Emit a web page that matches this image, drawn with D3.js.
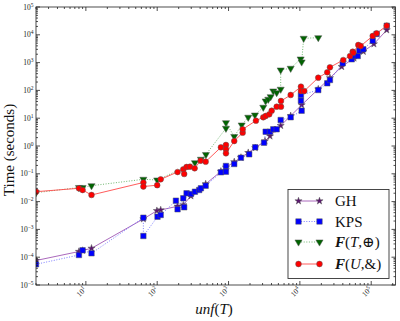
<!DOCTYPE html>
<html><head><meta charset="utf-8">
<script src="https://cdn.jsdelivr.net/npm/d3@7"></script>
<style>body{margin:0;background:#fff} svg{display:block}</style>
</head><body><svg id="c" width="400" height="321"></svg>
<script>
// ---- data ----
const ghX = [2, 8, 9, 12, 64, 99, 112, 193, 232, 297, 478, 782, 920, 1202, 1493, 1888, 2366, 3243, 3811, 5383, 7430, 10590, 18100, 26400, 38550, 57400, 77500, 109000, 165000];
const ghY = [7.6e-5, 1.6e-4, 1.74e-4, 2.09e-4, 2.37e-3, 4.7e-3, 5.0e-3, 6.8e-3, 7.6e-3, 0.0159, 0.043, 0.122, 0.171, 0.268, 0.386, 0.574, 0.86, 1.51, 2.27, 5.4, 12.2, 29.9, 111, 282, 713, 1450, 2500, 4670, 14900];

const kpsX = [2, 8, 9, 12, 64, 64, 101, 112, 183, 193, 232, 239, 258, 297, 338, 388, 410, 478, 782, 920, 920, 1202, 1493, 1950, 2366, 3141, 3315, 3811, 4236, 4731, 5383, 7430, 10590, 10350, 10350, 18100, 24200, 26400, 39800, 53300, 57400, 64700, 68100, 77500, 105000, 119000, 165000];
const kpsY = [5.56e-5, 1.20e-4, 1.77e-4, 1.38e-4, 2.64e-3, 5.79e-4, 2.86e-3, 3.30e-3, 0.0108, 5.28e-3, 0.0132, 6.24e-3, 0.0199, 0.0188, 0.0227, 0.0261, 0.0301, 0.0373, 0.113, 0.191, 0.119, 0.225, 0.379, 0.502, 0.897, 1.31, 3.27, 3.27, 3.99, 3.99, 8.61, 10.8, 18.6, 42.6, 68.4, 103, 180, 237, 944, 1315, 1727, 1727, 2680, 3010, 6140, 10700, 21200];

const ftX = [2, 8, 9, 12, 64, 100, 338, 410, 482, 920, 920, 1202, 1528, 1888, 2344, 3069, 3315, 3606, 3897, 4236, 4731, 5383, 5383, 7430, 10250, 10590, 11300, 18100];
const ftY = [0.0209, 0.0321, 0.0321, 0.0373, 0.0634, 0.0598, 0.251, 0.333, 0.494, 4.33, 6.89, 2.20, 5.69, 10.8, 13.0, 24.7, 41.6, 47.9, 59.3, 95.1, 82.6, 110, 542, 624, 1347, 1051, 7480, 7870];

const fuX = [2, 8, 9, 12, 64, 64, 100, 112, 193, 232, 239, 258, 288, 335, 406, 478, 782, 920, 920, 920, 1202, 1578, 1578, 2421, 3069, 3315, 3724, 4027, 4731, 5433, 5433, 7430, 10350, 10350, 11530, 18100, 24200, 26400, 40600, 50500, 55000, 56100, 65900, 71200, 105000, 119000, 165000];
const fuY = [0.0227, 0.0301, 0.0261, 0.0173, 0.0486, 0.0349, 0.0389, 0.0634, 0.116, 0.145, 0.0984, 0.176, 0.180, 0.158, 0.296, 0.272, 0.897, 1.09, 0.761, 0.546, 1.51, 3.01, 3.99, 8.13, 10.8, 12.0, 13.8, 18.6, 25.9, 25.9, 41.6, 68.4, 136, 95.1, 95.1, 286, 448, 678, 1240, 1727, 2466, 2270, 4296, 3955, 9060, 11300, 21200];

const xTickExps = [1, 2, 3, 4, 5];
const yTickExps = [-5, -4, -3, -2, -1, 0, 1, 2, 3, 4, 5];
const seriesNames = ["GH", "KPS", "F(T,⊕)", "F(U,&)"];

// ---- layout ----
const L = 36, R = 395.5, T = 7, B = 285;
const svg = d3.select('#c');
const x = d3.scaleLog().domain([2, 2.19e5]).range([L, R]);
const y = d3.scaleLog().domain([1e-5, 1e5]).range([B, T]);
const serif = "'Liberation Serif', 'DejaVu Serif', serif";

svg.append('defs').append('clipPath').attr('id', 'clip')
  .append('rect').attr('x', L).attr('y', T).attr('width', R - L).attr('height', B - T);

const series = [
  {name: seriesNames[0], xs: ghX, ys: ghY, line: '#9b4fb0', lop: 0.85, dash: null, sym: d3.symbolStar, size: 16, fill: '#5b1470', rot: 0},
  {name: seriesNames[1], xs: kpsX, ys: kpsY, line: '#6f6fff', lop: 0.9, dash: '1,1.6', sym: d3.symbolSquare, size: 30, fill: '#0000ff', rot: 0},
  {name: seriesNames[2], xs: ftX, ys: ftY, line: '#5fae5f', lop: 0.9, dash: '1,1.6', sym: d3.symbolTriangle, size: 22, fill: '#006400', rot: 180},
  {name: seriesNames[3], xs: fuX, ys: fuY, line: '#ff4a4a', lop: 0.9, dash: null, sym: d3.symbolCircle, size: 26, fill: '#ff0000', rot: 0}
];

const plot = svg.append('g').attr('clip-path', 'url(#clip)');
series.forEach(s => {
  const pts = s.xs.map((v, i) => [v, s.ys[i]]);
  const line = d3.line().x(d => x(d[0])).y(d => y(d[1]));
  plot.append('path').attr('d', line(pts)).attr('fill', 'none')
    .attr('stroke', s.line).attr('stroke-opacity', s.lop).attr('stroke-width', 1)
    .attr('stroke-dasharray', s.dash);
  plot.selectAll(null).data(pts).enter().append('path')
    .attr('d', d3.symbol().type(s.sym).size(s.size))
    .attr('transform', d => `translate(${x(d[0])},${y(d[1])}) rotate(${s.rot})`)
    .attr('fill', s.fill).attr('stroke', '#555').attr('stroke-opacity', 0.7).attr('stroke-width', 0.7);
});

// ---- frame & ticks ----
const axg = svg.append('g').attr('stroke', '#222').attr('stroke-width', 0.8);
axg.append('rect').attr('x', L).attr('y', T).attr('width', R - L).attr('height', B - T).attr('fill', 'none');
// y ticks
for (let e = -5; e <= 5; e++) {
  const yy = y(Math.pow(10, e));
  axg.append('line').attr('x1', L).attr('x2', L + 4).attr('y1', yy).attr('y2', yy);
  axg.append('line').attr('x1', R).attr('x2', R - 4).attr('y1', yy).attr('y2', yy);
  if (e < 5) for (let k = 2; k <= 9; k++) {
    const ym = y(k * Math.pow(10, e));
    axg.append('line').attr('x1', L).attr('x2', L + 2).attr('y1', ym).attr('y2', ym);
    axg.append('line').attr('x1', R).attr('x2', R - 2).attr('y1', ym).attr('y2', ym);
  }
}
// x ticks
for (let e = 0; e <= 5; e++) {
  for (let k = 1; k <= 9; k++) {
    const v = k * Math.pow(10, e);
    if (v < 2 || v > 2.19e5) continue;
    const xx = x(v), len = k === 1 ? 4 : 2;
    axg.append('line').attr('x1', xx).attr('x2', xx).attr('y1', B).attr('y2', B - len);
    axg.append('line').attr('x1', xx).attr('x2', xx).attr('y1', T).attr('y2', T + len);
  }
}

const expTxt = e => (e < 0 ? '\u2212' + (-e) : '' + e);
// y tick labels
yTickExps.forEach(e => {
  const t = svg.append('text').attr('x', 33.5).attr('y', y(Math.pow(10, e)) + 2.5)
    .attr('text-anchor', 'end').attr('font-family', serif).attr('font-size', 7.5).attr('fill', '#222');
  t.append('tspan').text('10');
  t.append('tspan').attr('dy', -3).attr('font-size', 5.5).text(expTxt(e));
});
// x tick labels
xTickExps.forEach(e => {
  const t = svg.append('text')
    .attr('transform', `translate(${x(Math.pow(10, e)) + 1},${290}) rotate(-45)`)
    .attr('text-anchor', 'end').attr('font-family', serif).attr('font-size', 7.5).attr('fill', '#222');
  t.append('tspan').text('10');
  t.append('tspan').attr('dy', -3).attr('font-size', 5.5).text(expTxt(e));
});

// axis titles
svg.append('text').attr('transform', 'translate(13.5,150) rotate(-90)')
  .attr('text-anchor', 'middle').attr('font-family', serif).attr('font-size', 15).attr('fill', '#111')
  .text('Time (seconds)');
const xl = svg.append('text').attr('x', 214).attr('y', 314).attr('text-anchor', 'middle')
  .attr('font-family', serif).attr('font-size', 15).attr('fill', '#111');
xl.append('tspan').attr('font-style', 'italic').text('unf');
xl.append('tspan').text('(');
xl.append('tspan').attr('font-style', 'italic').text('T');
xl.append('tspan').text(')');

// ---- legend ----
const lg = svg.append('g');
lg.append('rect').attr('x', 288).attr('y', 189.5).attr('width', 101).attr('height', 89)
  .attr('fill', '#fff').attr('stroke', '#333').attr('stroke-width', 0.9);
const rowY = [201, 221.5, 242, 264];
series.forEach((s, i) => {
  const yy = rowY[i];
  lg.append('line').attr('x1', 298.5).attr('x2', 319.5).attr('y1', yy).attr('y2', yy)
    .attr('stroke', s.line).attr('stroke-opacity', s.lop).attr('stroke-dasharray', s.dash);
  [298.5, 319.5].forEach(px => {
    lg.append('path').attr('d', d3.symbol().type(s.sym).size(s.size)())
      .attr('transform', `translate(${px},${yy}) rotate(${s.rot})`)
      .attr('fill', s.fill).attr('stroke', '#555').attr('stroke-opacity', 0.7).attr('stroke-width', 0.7);
  });
  const t = lg.append('text').attr('x', 335).attr('y', yy + 5).attr('font-family', serif)
    .attr('font-size', 15).attr('fill', '#111');
  if (i < 2) t.text(s.name);
  else {
    t.append('tspan').attr('font-weight', 'bold').attr('font-style', 'italic').text('F');
    t.append('tspan').text('(');
    t.append('tspan').attr('font-style', 'italic').text(i === 2 ? 'T' : 'U');
    t.append('tspan').text(i === 2 ? ',\u2295)' : ',&)');
  }
});
</script>
</body></html>
